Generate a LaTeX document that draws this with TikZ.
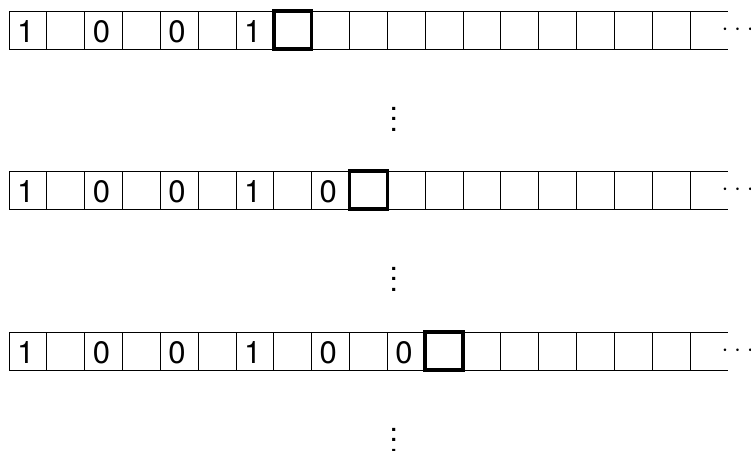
\documentclass[tikz,border=0pt]{standalone}
\usepackage{fontspec}
\setmainfont{TeX Gyre Heros}
\newcommand\myvdots{\vbox{\baselineskip=10.5pt\lineskiplimit=0pt\hbox{.}\hbox{.}\hbox{.}}}
\newcommand\mycdots{${\cdot}\kern5.7pt{\cdot}\kern5.7pt{\cdot}$}
\begin{document}
\begin{tikzpicture}[x=1pt,y=-1pt,
  cellbox/.style={draw, line width=0.8pt, minimum width=37.83pt, minimum height=38pt,
    inner sep=0pt, outer sep=0pt, anchor=north west},
  headbox/.style={cellbox, line width=3.5pt},
  digit/.style={inner sep=0pt, font=\fontsize{31}{33}\selectfont, xshift=-2.2pt, yshift=-2pt},
  dotsnode/.style={inner sep=0pt, font=\fontsize{30}{32}\selectfont},
  tapeline/.style={line width=0.8pt}]
\useasboundingbox (0,0) rectangle (751,450);
\foreach \r/\top/\h in {1/11/7, 2/171/9, 3/332/11} {
  \foreach \k in {0,...,17} {
    \node[cellbox] (c\r-\k) at ({9+\k*37.83}, \top) {};
  }
  \coordinate (et\r) at (728, \top);
  \coordinate (eb\r) at (728, \top+38);
  \draw[tapeline] (c\r-17.north east) -- (et\r);
  \draw[tapeline] (c\r-17.south east) -- (eb\r);
  \node[headbox] (h\r) at ({9+\h*37.83}, \top) {};
  \foreach \k/\d in {0/1, 2/0, 4/0, 6/1, 8/0, 10/0} {
    \ifnum\k<\h
      \node[digit] (n\r-\k) at (c\r-\k.center) {\d};
    \fi
  }
  \node[dotsnode] (hd\r) at (737.7, \top+19) {\mycdots};
  \node[dotsnode] (vd\r) at (393.7, \top+108) {\myvdots};
}
\end{tikzpicture}
\end{document}
